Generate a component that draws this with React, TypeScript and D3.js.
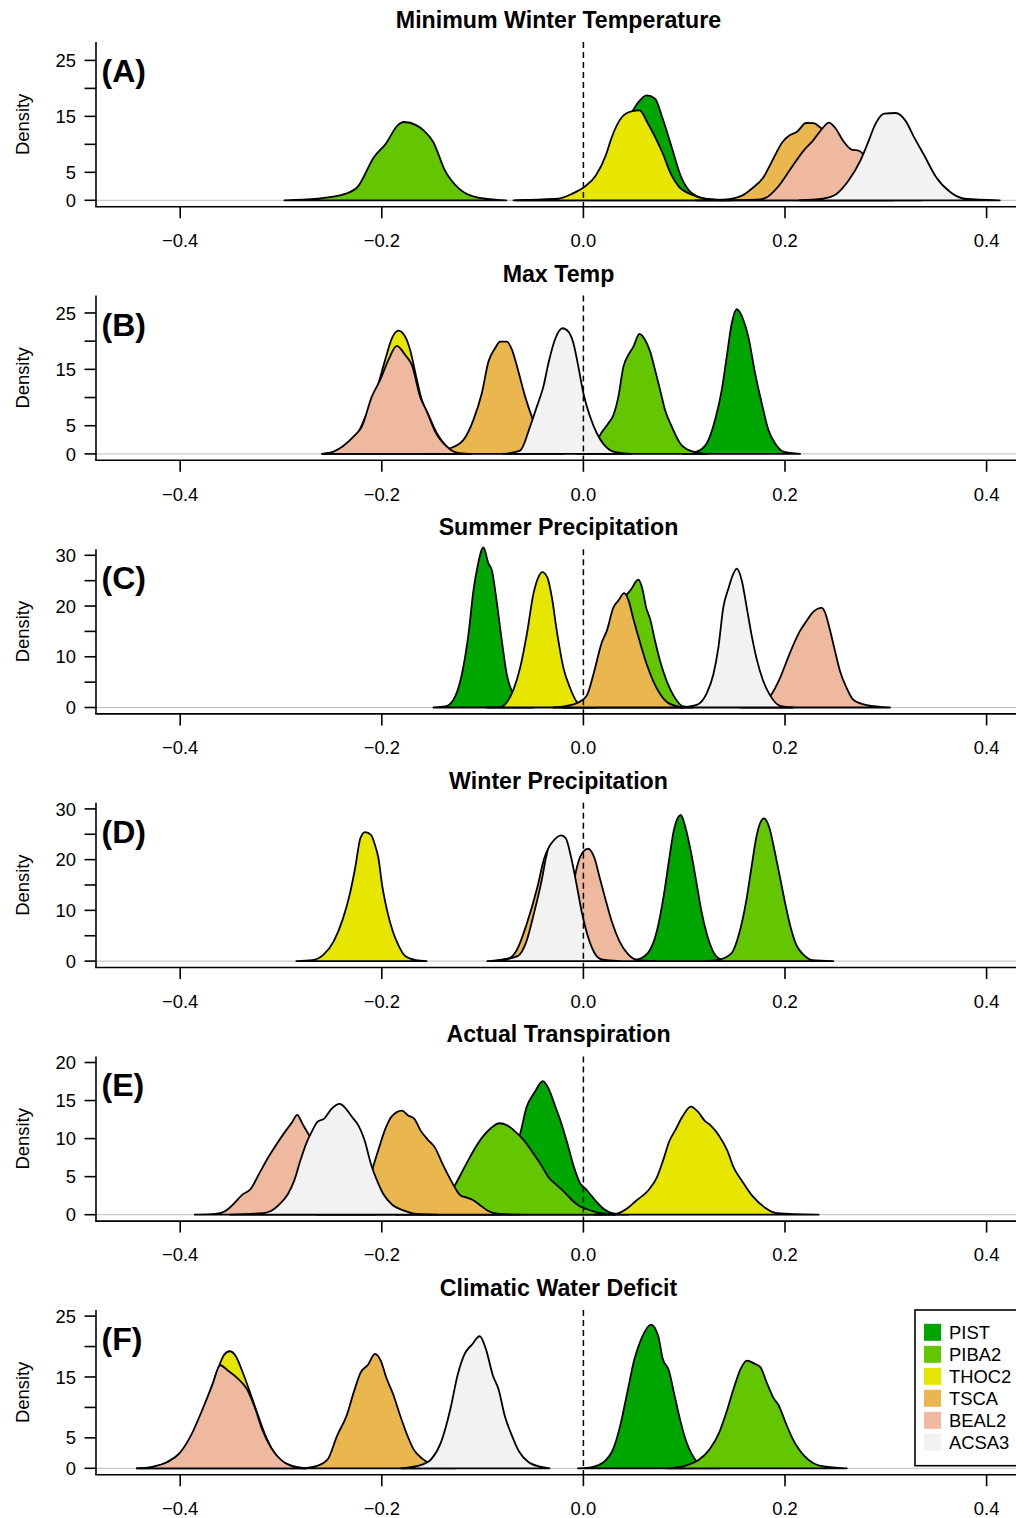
import React from "react";
import * as d3 from "d3";

type Pt = [number, number];

const SPECIES = ["PIST", "PIBA2", "THOC2", "TSCA", "BEAL2", "ACSA3"];
const COLORS = ["#00A600", "#63C600", "#E6E600", "#EAB64E", "#EEB99F", "#F2F2F2"];
const TITLES = [
  "Minimum Winter Temperature",
  "Max Temp",
  "Summer Precipitation",
  "Winter Precipitation",
  "Actual Transpiration",
  "Climatic Water Deficit",
];
const PANEL_LABELS = ["(A)", "(B)", "(C)", "(D)", "(E)", "(F)"];
const Y_MAX = [27.2, 27.0, 30.0, 30.0, 20.0, 25.0];
const Y_TICKS = [
  [0, 5, 10, 15, 20, 25],
  [0, 5, 10, 15, 20, 25],
  [0, 5, 10, 15, 20, 25, 30],
  [0, 5, 10, 15, 20, 25, 30],
  [0, 5, 10, 15, 20],
  [0, 5, 10, 15, 20, 25],
];
const Y_TICK_LABELS = [
  [0, 5, 15, 25],
  [0, 5, 15, 25],
  [0, 10, 20, 30],
  [0, 10, 20, 30],
  [0, 5, 10, 15, 20],
  [0, 5, 15, 25],
];
const X_TICKS = [-0.4, -0.2, 0, 0.2, 0.4];

// ---- Panel A: Minimum Winter Temperature
const A_PIST: Pt[] = [[-0.0671,0],[-0.0202,0.3],[0.0078,3.0],[0.0266,9.3],[0.0453,14.88],[0.0547,17.56],[0.0627,18.75],[0.0711,18.16],[0.0781,14.88],[0.0875,9.53],[0.0969,4.17],[0.1062,1.49],[0.1203,0.3],[0.139,0]];
const A_PIBA2: Pt[] = [[-0.2967,0],[-0.264,0.3],[-0.2357,1.19],[-0.224,2.38],[-0.2077,7.74],[-0.196,10.12],[-0.1843,13.39],[-0.1781,13.99],[-0.1655,13.39],[-0.1585,12.5],[-0.149,10.42],[-0.1374,5.36],[-0.1234,2.08],[-0.1046,0.48],[-0.0765,0]];
const A_THOC2: Pt[] = [[-0.0694,0],[-0.025,0.3],[-0.0109,1.19],[0.0008,2.38],[0.0125,4.46],[0.0228,8.33],[0.0276,11.01],[0.0383,14.88],[0.0477,15.9],[0.0556,16.07],[0.0641,13.69],[0.0781,8.63],[0.0875,4.46],[0.0945,2.5],[0.1062,1.07],[0.1203,0.3],[0.1484,0]];
const A_TSCA: Pt[] = [[0.1109,0],[0.139,0.12],[0.1578,0.89],[0.1671,2.08],[0.1788,4.17],[0.1859,6.55],[0.1976,10.42],[0.2046,11.61],[0.2116,12.2],[0.221,13.81],[0.228,13.81],[0.2374,12.6],[0.2514,9.5],[0.2655,4.17],[0.2796,0.89],[0.3076,0]];
const A_BEAL2: Pt[] = [[0.1343,0],[0.1718,0.12],[0.1812,0.48],[0.1929,2.38],[0.2046,5.36],[0.2187,8.93],[0.228,10.72],[0.2374,12.92],[0.2435,13.87],[0.2491,13.1],[0.2585,10.42],[0.2655,9.11],[0.2739,8.81],[0.2842,6.55],[0.2983,2.98],[0.3124,0.89],[0.3358,0]];
const A_ACSA3: Pt[] = [[0.2139,0],[0.2374,0.3],[0.2514,1.19],[0.2632,3.57],[0.2749,7.14],[0.2819,10.12],[0.2899,13.69],[0.2983,15.48],[0.31,15.6],[0.3193,14.29],[0.3288,11.01],[0.3381,8.04],[0.3498,4.17],[0.3639,1.49],[0.378,0.3],[0.4131,0]];

// ---- Panel B: Max Temp
const B_PIST: Pt[] = [[0.0992,0],[0.1125,0.41],[0.1224,1.9],[0.1306,6.03],[0.1373,11.35],[0.1422,17.25],[0.1472,23.17],[0.1521,25.66],[0.1587,23.76],[0.1636,20.8],[0.1703,14.31],[0.1769,8.99],[0.1835,4.26],[0.1901,1.9],[0.1984,0.41],[0.2149,0]];
const B_PIBA2: Pt[] = [[-0.0065,0],[0.0099,0.71],[0.0166,3.37],[0.0248,5.44],[0.0298,6.91],[0.0347,10.16],[0.0397,15.48],[0.0446,17.55],[0.0496,19.02],[0.0555,21.28],[0.0612,20.21],[0.0662,18.14],[0.0711,14.89],[0.0761,11.35],[0.081,7.8],[0.0877,4.84],[0.0959,1.9],[0.1058,0.59],[0.1224,0]];
const B_THOC2: Pt[] = [[-0.2579,0],[-0.2446,0.41],[-0.2247,3.37],[-0.2148,7.21],[-0.2033,12.53],[-0.1967,16.67],[-0.19,20.51],[-0.1835,21.87],[-0.1768,20.8],[-0.1719,18.44],[-0.1659,13.71],[-0.1603,9.57],[-0.1537,6.91],[-0.1454,3.66],[-0.1355,1.3],[-0.1256,0.24],[-0.1124,0]];
const B_TSCA: Pt[] = [[-0.162,0],[-0.1322,1.0],[-0.119,2.48],[-0.1091,6.03],[-0.1008,10.76],[-0.0942,16.37],[-0.0876,18.74],[-0.0826,19.91],[-0.076,19.91],[-0.071,18.56],[-0.0645,14.6],[-0.0578,10.16],[-0.0512,6.62],[-0.0429,3.07],[-0.033,0.71],[-0.0198,0]];
const B_BEAL2: Pt[] = [[-0.2594,0],[-0.2479,0.41],[-0.2281,3.07],[-0.2198,4.84],[-0.2099,10.16],[-0.2016,13.12],[-0.1934,16.67],[-0.1851,19.15],[-0.1768,17.55],[-0.1702,15.78],[-0.162,10.16],[-0.1553,7.5],[-0.1471,3.96],[-0.1355,1.3],[-0.1256,0.24],[-0.1124,0]];
const B_ACSA3: Pt[] = [[-0.0793,0],[-0.0628,0.59],[-0.0529,4.84],[-0.0462,8.39],[-0.0397,11.93],[-0.0347,16.08],[-0.0281,20.34],[-0.0208,22.29],[-0.0149,21.69],[-0.0099,19.63],[-0.005,15.48],[0,10.76],[0.0066,6.62],[0.0133,3.66],[0.0198,1.77],[0.0298,0.41],[0.0463,0]];

// ---- Panel C: Summer Precipitation
const C_PIST: Pt[] = [[-0.1488,0],[-0.1372,0.2],[-0.1289,1.53],[-0.1206,6.5],[-0.114,14.45],[-0.1091,23.06],[-0.1051,27.69],[-0.0992,31.55],[-0.0942,28.37],[-0.0908,27.04],[-0.0866,21.73],[-0.0809,13.12],[-0.076,6.5],[-0.071,3.18],[-0.0628,0.53],[-0.0496,0]];
const C_PIBA2: Pt[] = [[-0.0198,0],[-0.0033,0.2],[0.0099,2.19],[0.0198,10.48],[0.0298,17.75],[0.0397,21.41],[0.047,23.2],[0.0545,25.19],[0.0585,23.4],[0.0622,19.74],[0.0662,17.44],[0.0711,13.12],[0.0761,9.15],[0.0827,5.17],[0.0893,2.39],[0.0992,0.2],[0.1091,0]];
const C_THOC2: Pt[] = [[-0.0958,0],[-0.0826,0.06],[-0.0754,1.19],[-0.0694,3.52],[-0.0628,7.81],[-0.0561,14.45],[-0.0496,22.4],[-0.0446,25.71],[-0.0407,26.7],[-0.0357,25.59],[-0.0313,21.73],[-0.0264,15.11],[-0.0198,7.81],[-0.0132,3.84],[-0.0065,1.06],[0,0.06],[0.0133,0]];
const C_TSCA: Pt[] = [[-0.0298,0],[-0.0165,0.33],[-0.0033,1.19],[0.0034,2.39],[0.0099,6.5],[0.0182,12.79],[0.0232,15.11],[0.0298,19.74],[0.0347,21.07],[0.0404,22.53],[0.0446,21.2],[0.0496,17.44],[0.0562,12.79],[0.0629,8.48],[0.0694,5.17],[0.0761,2.65],[0.0843,0.86],[0.0992,0]];
const C_BEAL2: Pt[] = [[0.1554,0],[0.1752,0.53],[0.1852,2.19],[0.1951,5.83],[0.2017,9.15],[0.21,13.12],[0.2149,15.11],[0.2216,17.1],[0.2275,18.75],[0.2364,19.62],[0.2397,18.75],[0.244,15.77],[0.2496,11.13],[0.2546,7.16],[0.2612,3.84],[0.2678,1.53],[0.2811,0.46],[0.3042,0]];
const C_ACSA3: Pt[] = [[0.0959,0],[0.1125,0.53],[0.1224,2.85],[0.1289,6.5],[0.1339,11.8],[0.1388,19.74],[0.1438,23.4],[0.1488,26.37],[0.1521,27.37],[0.1571,25.05],[0.162,19.74],[0.167,14.12],[0.172,9.48],[0.1785,5.17],[0.1852,2.39],[0.1951,0.33],[0.2083,0]];

// ---- Panel D: Winter Precipitation
const D_PIST: Pt[] = [[0.0393,0],[0.0534,0.33],[0.0641,1.64],[0.0729,5.92],[0.0799,13.16],[0.0853,20.37],[0.0899,25.97],[0.0966,28.8],[0.1013,26.3],[0.1065,21.7],[0.1119,15.78],[0.1171,9.86],[0.1225,5.27],[0.1285,1.97],[0.1356,0.39],[0.1455,0]];
const D_PIBA2: Pt[] = [[0.1225,0],[0.1367,0.39],[0.1473,1.64],[0.1543,5.27],[0.1615,11.83],[0.1667,18.4],[0.1721,24.98],[0.1791,28.14],[0.1845,26.3],[0.1897,21.7],[0.1951,16.43],[0.2004,11.18],[0.2057,6.57],[0.211,3.29],[0.2181,1.31],[0.2269,0.2],[0.248,0]];
const D_THOC2: Pt[] = [[-0.2848,0],[-0.269,0.2],[-0.2583,1.18],[-0.2476,3.94],[-0.2388,8.22],[-0.2318,13.16],[-0.2264,18.4],[-0.2211,24.32],[-0.2165,25.44],[-0.2105,24.85],[-0.207,23.02],[-0.2034,20.37],[-0.1998,15.13],[-0.1946,9.86],[-0.1892,5.92],[-0.1839,3.29],[-0.1768,0.99],[-0.1662,0.2],[-0.1556,0]];
const D_TSCA: Pt[] = [[-0.0954,0],[-0.0741,0.53],[-0.0663,2.1],[-0.0564,7.23],[-0.0458,14.46],[-0.0387,20.37],[-0.0326,22.81],[-0.0263,23.67],[-0.0175,21.04],[-0.0103,14.46],[-0.0033,7.89],[0.0038,3.29],[0.0109,0.66],[0.0251,0]];
const D_BEAL2: Pt[] = [[-0.0458,0],[-0.0281,0.53],[-0.0192,3.94],[-0.0132,9.86],[-0.0086,16.43],[-0.0033,20.51],[0.0003,21.7],[0.0046,22.15],[0.0109,20.37],[0.0162,16.43],[0.0215,12.49],[0.0286,7.56],[0.0357,3.94],[0.0445,1.31],[0.0534,0.2],[0.0711,0]];
const D_ACSA3: Pt[] = [[-0.0883,0],[-0.0653,0.99],[-0.0564,3.94],[-0.0493,9.21],[-0.0422,15.13],[-0.0351,22.03],[-0.0299,23.67],[-0.022,24.79],[-0.0175,24.2],[-0.0121,20.37],[-0.0068,15.13],[-0.0015,9.53],[0.0038,5.27],[0.0109,1.64],[0.018,0.33],[0.0357,0]];

// ---- Panel E: Actual Transpiration
const E_PIST: Pt[] = [[-0.1532,0],[-0.1204,0.3],[-0.0957,2.06],[-0.0792,5.13],[-0.069,8.42],[-0.0628,10.61],[-0.0566,14.04],[-0.0484,16.09],[-0.0402,17.54],[-0.034,16.41],[-0.0279,14.21],[-0.0217,11.93],[-0.0156,9.21],[-0.0093,6.22],[-0.0032,4.12],[0.0022,3.38],[0.0079,2.5],[0.0141,1.54],[0.0202,0.75],[0.0285,0.22],[0.0441,0]];
const E_PIBA2: Pt[] = [[-0.1862,0],[-0.1574,0.22],[-0.1409,1.18],[-0.1286,3.6],[-0.1162,6.67],[-0.108,8.64],[-0.0998,10.26],[-0.0916,11.4],[-0.0834,12.02],[-0.0752,11.71],[-0.0669,10.83],[-0.0587,9.74],[-0.0505,8.2],[-0.0422,6.58],[-0.034,4.83],[-0.0279,4.04],[-0.0196,3.07],[-0.0114,1.93],[-0.0045,1.18],[0.003,0.75],[0.0133,0.3],[0.0317,0]];
const E_THOC2: Pt[] = [[0.0112,0],[0.0317,0.09],[0.042,0.7],[0.0523,1.84],[0.0647,3.25],[0.0729,4.91],[0.079,7.11],[0.0852,9.65],[0.0913,11.14],[0.0984,12.94],[0.1066,14.21],[0.114,13.47],[0.1202,12.37],[0.1264,11.71],[0.1346,10.39],[0.1428,8.42],[0.149,6.22],[0.1572,4.47],[0.1674,2.5],[0.1798,0.96],[0.1921,0.22],[0.2333,0]];
const E_TSCA: Pt[] = [[-0.2643,0],[-0.2396,0.09],[-0.2273,0.88],[-0.217,2.72],[-0.2088,6.22],[-0.2026,8.86],[-0.1965,11.27],[-0.1903,12.89],[-0.18,13.68],[-0.1739,13.03],[-0.1677,12.6],[-0.1615,11.05],[-0.1545,9.87],[-0.1471,8.78],[-0.1409,7.02],[-0.1348,5.36],[-0.1286,3.82],[-0.1216,2.5],[-0.1162,2.28],[-0.1101,1.97],[-0.1031,1.32],[-0.0949,0.53],[-0.0834,0.09],[-0.0628,0]];
const E_BEAL2: Pt[] = [[-0.3856,0],[-0.3651,0.09],[-0.3548,0.53],[-0.3465,1.49],[-0.3383,2.63],[-0.3301,3.38],[-0.3218,5.36],[-0.3136,7.33],[-0.3046,9.21],[-0.2952,11.05],[-0.289,12.14],[-0.284,13.12],[-0.2787,11.93],[-0.2725,10.53],[-0.2643,8.42],[-0.2519,4.91],[-0.2396,1.84],[-0.2273,0.35],[-0.2067,0]];
const E_ACSA3: Pt[] = [[-0.3506,0],[-0.3178,0.22],[-0.3095,0.53],[-0.3013,1.4],[-0.2931,2.72],[-0.2869,4.47],[-0.2808,7.11],[-0.2745,9.51],[-0.2693,10.96],[-0.2643,12.14],[-0.2569,12.67],[-0.2499,13.91],[-0.2417,14.56],[-0.2355,13.91],[-0.2293,12.8],[-0.2231,11.71],[-0.217,9.74],[-0.2108,6.67],[-0.2047,4.47],[-0.1985,2.72],[-0.1903,1.4],[-0.1779,0.53],[-0.1656,0.09],[-0.1451,0]];

// ---- Panel F: Climatic Water Deficit
const F_PIST: Pt[] = [[-0.0055,0],[0.0085,0.21],[0.0202,1.03],[0.0297,3.22],[0.0366,7.05],[0.0436,12.51],[0.0507,17.98],[0.0577,21.36],[0.067,23.6],[0.0741,21.8],[0.0787,17.98],[0.0848,16.07],[0.0904,11.97],[0.0961,7.87],[0.1022,4.31],[0.1101,1.59],[0.1185,0.38],[0.1349,0]];
const F_PIBA2: Pt[] = [[0.0834,0],[0.1022,0.49],[0.1139,1.31],[0.1256,3.22],[0.1349,5.95],[0.1419,9.23],[0.149,13.07],[0.156,16.34],[0.1621,17.7],[0.17,17.16],[0.1756,16.61],[0.1817,14.15],[0.1887,11.52],[0.1934,10.44],[0.2004,7.59],[0.2075,4.87],[0.2145,2.95],[0.2238,1.31],[0.2332,0.49],[0.2613,0]];
const F_THOC2: Pt[] = [[-0.4431,0],[-0.4268,0.21],[-0.4127,1.03],[-0.3987,2.79],[-0.3893,5.13],[-0.3776,9.51],[-0.3682,13.66],[-0.3612,16.93],[-0.3565,18.64],[-0.3509,19.23],[-0.3448,18.41],[-0.3387,16.07],[-0.3308,12.51],[-0.3237,9.13],[-0.3168,5.95],[-0.3073,2.67],[-0.298,1.03],[-0.2863,0.27],[-0.2746,0]];
const F_TSCA: Pt[] = [[-0.2793,0],[-0.2629,0.49],[-0.2536,1.48],[-0.2442,5.41],[-0.2348,8.69],[-0.2278,12.51],[-0.2208,15.79],[-0.2137,17.0],[-0.2068,18.8],[-0.2011,17.7],[-0.1951,14.7],[-0.1889,12.25],[-0.1824,8.97],[-0.1753,5.68],[-0.1684,3.11],[-0.16,1.59],[-0.1505,0.71],[-0.1271,0]];
const F_BEAL2: Pt[] = [[-0.4431,0],[-0.429,0.21],[-0.4127,1.03],[-0.401,2.41],[-0.3893,5.41],[-0.3776,9.79],[-0.3682,13.66],[-0.3603,16.93],[-0.3528,16.07],[-0.3425,14.7],[-0.334,13.07],[-0.3261,10.05],[-0.319,6.51],[-0.3097,3.33],[-0.3003,1.43],[-0.291,0.49],[-0.2746,0]];
const F_ACSA3: Pt[] = [[-0.181,0],[-0.16,0.6],[-0.1505,1.59],[-0.1412,4.31],[-0.1319,9.79],[-0.1249,15.25],[-0.1178,18.8],[-0.1108,20.28],[-0.1028,21.69],[-0.0968,19.62],[-0.0898,15.25],[-0.0841,12.95],[-0.0781,8.69],[-0.071,5.41],[-0.064,2.79],[-0.0546,1.03],[-0.0429,0.27],[-0.0336,0]];

const PANEL_CURVES: Pt[][][] = [
  [A_PIST, A_PIBA2, A_THOC2, A_TSCA, A_BEAL2, A_ACSA3],
  [B_PIST, B_PIBA2, B_THOC2, B_TSCA, B_BEAL2, B_ACSA3],
  [C_PIST, C_PIBA2, C_THOC2, C_TSCA, C_BEAL2, C_ACSA3],
  [D_PIST, D_PIBA2, D_THOC2, D_TSCA, D_BEAL2, D_ACSA3],
  [E_PIST, E_PIBA2, E_THOC2, E_TSCA, E_BEAL2, E_ACSA3],
  [F_PIST, F_PIBA2, F_THOC2, F_TSCA, F_BEAL2, F_ACSA3],
];

// layout
const W = 1016;
const H = 1518;
const PANEL_H = 253.6;
const LEFT = 96;
const RIGHT = 1021;
const PLOT_TOP = 42;
const PLOT_BOTTOM = 206.7;
const Y_ZERO = 200.3;
const Y_TOP = 48.1;
const FONT = "'Liberation Sans', Arial, Helvetica, sans-serif";
const FS = 18.4;

const x = d3.scaleLinear().domain([-0.4, 0.4]).range([180.2, 986.6]);

const fmtX = (v: number) => (v < 0 ? "\u2212" + Math.abs(v).toFixed(1) : v.toFixed(1));

function Panel({ idx }: { idx: number }) {
  const off = idx * PANEL_H;
  const y = d3.scaleLinear().domain([0, Y_MAX[idx]]).range([off + Y_ZERO, off + Y_TOP]);
  const line = d3
    .line<Pt>()
    .x((d) => x(d[0]))
    .y((d) => y(d[1]))
    .curve(d3.curveMonotoneX);
  const curves = PANEL_CURVES[idx];
  const top = off + PLOT_TOP;
  const bottom = off + PLOT_BOTTOM;
  return (
    <g>
      <text
        x={(LEFT + RIGHT) / 2}
        y={off + 28}
        textAnchor="middle"
        fontFamily={FONT}
        fontWeight="bold"
        fontSize={23.2}
      >
        {TITLES[idx]}
      </text>
      <line x1={LEFT} x2={RIGHT} y1={y(0)} y2={y(0)} stroke="#BEBEBE" strokeWidth={1} />
      {curves.map((c, k) => (
        <path
          key={k}
          d={(line(c) || "") + "Z"}
          fill={COLORS[k]}
          stroke="#000"
          strokeWidth={1.8}
          strokeLinejoin="round"
        />
      ))}
      <line
        x1={x(0)}
        x2={x(0)}
        y1={top}
        y2={bottom}
        stroke="#000"
        strokeWidth={1.5}
        strokeDasharray="6 4"
      />
      <line x1={LEFT} x2={LEFT} y1={top} y2={bottom} stroke="#000" strokeWidth={1.6} />
      <line x1={LEFT - 0.8} x2={RIGHT} y1={bottom} y2={bottom} stroke="#000" strokeWidth={1.6} />
      {X_TICKS.map((t) => (
        <g key={t}>
          <line x1={x(t)} x2={x(t)} y1={bottom} y2={bottom + 11.5} stroke="#000" strokeWidth={1.6} />
          <text x={x(t)} y={off + 247} textAnchor="middle" fontFamily={FONT} fontSize={FS}>
            {fmtX(t)}
          </text>
        </g>
      ))}
      {Y_TICKS[idx].map((t) => (
        <line key={t} x1={LEFT - 11.5} x2={LEFT} y1={y(t)} y2={y(t)} stroke="#000" strokeWidth={1.6} />
      ))}
      {Y_TICK_LABELS[idx].map((t) => (
        <text key={t} x={76} y={y(t) + 6.6} textAnchor="end" fontFamily={FONT} fontSize={FS}>
          {t}
        </text>
      ))}
      <text
        transform={`translate(29, ${(top + bottom) / 2}) rotate(-90)`}
        textAnchor="middle"
        fontFamily={FONT}
        fontSize={FS}
      >
        Density
      </text>
      <text x={101.5} y={off + 82} fontFamily={FONT} fontWeight="bold" fontSize={32}>
        {PANEL_LABELS[idx]}
      </text>
    </g>
  );
}

function Legend() {
  const off = 5 * PANEL_H;
  const boxTop = off + PLOT_TOP;
  const boxH = 155.7;
  return (
    <g>
      <rect
        x={915}
        y={boxTop}
        width={RIGHT - 915}
        height={boxH}
        fill="#fff"
        stroke="#000"
        strokeWidth={1.6}
      />
      {SPECIES.map((s, k) => {
        const cy = boxTop + 22.3 + k * 22;
        return (
          <g key={s}>
            <rect x={924} y={cy - 8.5} width={17} height={17} fill={COLORS[k]} />
            <text x={949} y={cy + 6.6} fontFamily={FONT} fontSize={FS}>
              {s}
            </text>
          </g>
        );
      })}
    </g>
  );
}

export default function App() {
  return (
    <svg
      width={W}
      height={H}
      viewBox={`0 0 ${W} ${H}`}
      style={{ position: "absolute", left: 0, top: 0, display: "block", background: "#fff" }}
    >
      <rect x={0} y={0} width={W} height={H} fill="#fff" />
      {[0, 1, 2, 3, 4, 5].map((i) => (
        <Panel key={i} idx={i} />
      ))}
      <Legend />
    </svg>
  );
}
